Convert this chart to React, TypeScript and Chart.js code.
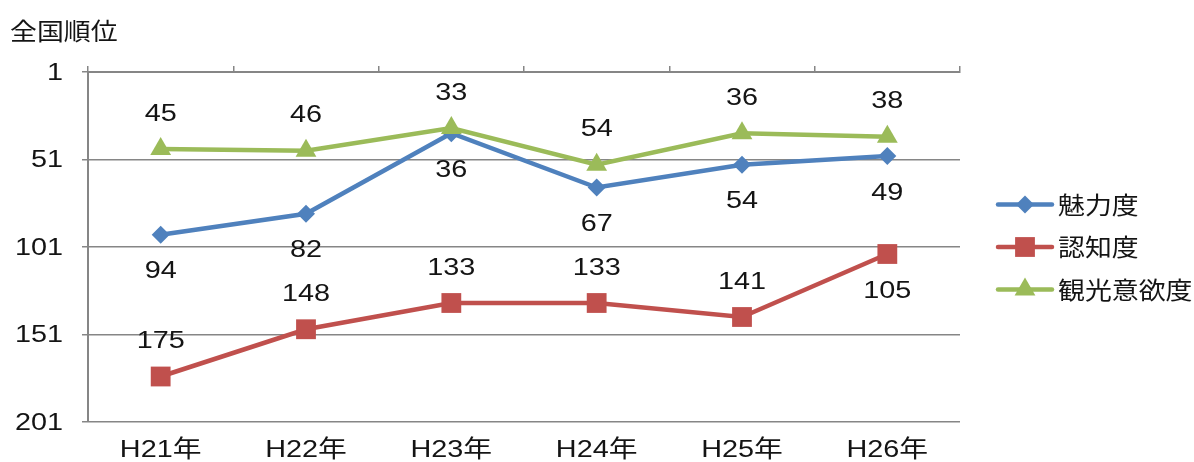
import React, { useEffect, useRef } from 'react';
import { Chart, registerables } from 'chart.js';

Chart.register(...registerables);

const categories = ['H21年', 'H22年', 'H23年', 'H24年', 'H25年', 'H26年'];
const seriesNames = ['魅力度', '認知度', '観光意欲度'];
const miryokudo = [94, 82, 36, 67, 54, 49];
const ninchido = [175, 148, 133, 133, 141, 105];
const kankoIyokudo = [45, 46, 33, 54, 36, 38];
const yTicks = [1, 51, 101, 151, 201];
const yTitle = '全国順位';
const miryokuLabelPos = ['below', 'below', 'below', 'below', 'below', 'below'];
const ninchiLabelPos = ['above', 'above', 'above', 'above', 'above', 'below'];
const kankoLabelPos = ['above', 'above', 'above', 'above', 'above', 'above'];

const BLUE = '#4F81BD';
const RED = '#C0504D';
const GREEN = '#9BBB59';
const AXIS = '#868686';
const TEXT = '#141414';
const NUM_FONT = '"Liberation Sans", "Noto Sans CJK JP", sans-serif';
const CJK_FONT = '"Noto Sans CJK JP", sans-serif';
const NUM_SX = 1.2;
const CJK_SX = 1.12;

const labelPositions = [miryokuLabelPos, ninchiLabelPos, kankoLabelPos];
const markerStyles = ['rectRot', 'rect', 'triangle'];
const colors = [BLUE, RED, GREEN];

function drawText(
  ctx: CanvasRenderingContext2D,
  text: string,
  x: number,
  y: number,
  align: CanvasTextAlign,
  font: string,
  sx: number
) {
  ctx.save();
  ctx.translate(x, y);
  ctx.scale(sx, 1);
  ctx.font = font;
  ctx.fillStyle = TEXT;
  ctx.textAlign = align;
  ctx.textBaseline = 'middle';
  ctx.fillText(text, 0, 0);
  ctx.restore();
}

function drawMarker(ctx: CanvasRenderingContext2D, style: string, x: number, y: number, r: number, color: string) {
  ctx.save();
  ctx.fillStyle = color;
  ctx.beginPath();
  if (style === 'rectRot') {
    ctx.moveTo(x, y - r);
    ctx.lineTo(x + r, y);
    ctx.lineTo(x, y + r);
    ctx.lineTo(x - r, y);
  } else if (style === 'rect') {
    const s = Math.SQRT1_2 * r;
    ctx.rect(x - s, y - s, 2 * s, 2 * s);
  } else {
    ctx.moveTo(x, y - r);
    ctx.lineTo(x + r * Math.cos(Math.PI / 6), y + r / 2);
    ctx.lineTo(x - r * Math.cos(Math.PI / 6), y + r / 2);
  }
  ctx.closePath();
  ctx.fill();
  ctx.restore();
}

const textPlugin = {
  id: 'textLayer',
  afterDatasetsDraw(chart: any) {
    const ctx = chart.ctx as CanvasRenderingContext2D;
    const numFont = `24px ${NUM_FONT}`;
    chart.data.datasets.forEach((ds: any, di: number) => {
      const meta = chart.getDatasetMeta(di);
      meta.data.forEach((pt: any, i: number) => {
        const pos = labelPositions[di][i];
        const dy = pos === 'above' ? -35 : 37;
        drawText(ctx, String(ds.data[i]), pt.x, pt.y + dy, 'center', numFont, NUM_SX);
      });
    });
  },
  afterDraw(chart: any) {
    const ctx = chart.ctx as CanvasRenderingContext2D;
    const area = chart.chartArea;
    const numFont = `24px ${NUM_FONT}`;
    const cjkFont = `24px ${CJK_FONT}`;
    // y tick labels
    const yScale = chart.scales.y;
    yTicks.forEach((v) => {
      drawText(ctx, String(v), area.left - 25, yScale.getPixelForValue(v) + 1, 'right', numFont, NUM_SX);
    });
    // x category labels
    const xScale = chart.scales.x;
    categories.forEach((c, i) => {
      drawText(ctx, c, xScale.getPixelForTick(i), area.bottom + 28, 'center', numFont, NUM_SX);
    });
    // title
    drawText(ctx, yTitle, 10, 31, 'left', cjkFont, CJK_SX);
    // legend
    const cy = (area.top + area.bottom) / 2;
    const x0 = area.right + 38;
    const radii = [9, 14, 12];
    seriesNames.forEach((name, i) => {
      const y = cy + (i - 1) * 42.5;
      ctx.save();
      ctx.strokeStyle = colors[i];
      ctx.lineWidth = 4.5;
      ctx.lineCap = 'round';
      ctx.beginPath();
      ctx.moveTo(x0, y);
      ctx.lineTo(x0 + 54, y);
      ctx.stroke();
      ctx.restore();
      drawMarker(ctx, markerStyles[i], x0 + 27, y, radii[i], colors[i]);
      drawText(ctx, name, x0 + 60, y, 'left', cjkFont, CJK_SX);
    });
  },
};

export default function App() {
  const ref = useRef<HTMLCanvasElement>(null);

  useEffect(() => {
    if (!ref.current) return;
    const chart = new Chart(ref.current, {
      type: 'line',
      data: {
        labels: categories,
        datasets: [
          {
            label: seriesNames[0],
            data: miryokudo,
            borderColor: BLUE,
            backgroundColor: BLUE,
            pointBackgroundColor: BLUE,
            pointBorderColor: BLUE,
            borderWidth: 4.5,
            pointStyle: 'rectRot',
            pointRadius: 9,
            pointBorderWidth: 0,
            order: 2,
          },
          {
            label: seriesNames[1],
            data: ninchido,
            borderColor: RED,
            backgroundColor: RED,
            pointBackgroundColor: RED,
            pointBorderColor: RED,
            borderWidth: 4.5,
            pointStyle: 'rect',
            pointRadius: 14,
            pointBorderWidth: 0,
            order: 1,
          },
          {
            label: seriesNames[2],
            data: kankoIyokudo,
            borderColor: GREEN,
            backgroundColor: GREEN,
            pointBackgroundColor: GREEN,
            pointBorderColor: GREEN,
            borderWidth: 4.5,
            pointStyle: 'triangle',
            pointRadius: 12,
            pointBorderWidth: 0,
            order: 0,
          },
        ],
      },
      options: {
        animation: false,
        responsive: false,
        devicePixelRatio: 1,
        layout: { padding: { top: 0, left: 0, right: 234, bottom: 0 } },
        plugins: {
          legend: { display: false },
          tooltip: { enabled: false },
          title: { display: false },
        },
        scales: {
          x: {
            type: 'category',
            position: 'bottom',
            offset: true,
            grid: { display: false, drawTicks: false },
            border: { display: false },
            ticks: { display: false },
            afterFit: (s: any) => {
              s.height = 40;
            },
          },
          x2: {
            type: 'category',
            position: 'top',
            offset: true,
            grid: {
              offset: true,
              drawOnChartArea: false,
              drawTicks: true,
              tickLength: 6,
              color: AXIS,
              lineWidth: 1.5,
            },
            border: { display: true, color: AXIS, width: 2 },
            ticks: { display: false },
            afterFit: (s: any) => {
              s.height = 72;
            },
          },
          y: {
            type: 'linear',
            reverse: true,
            min: 1,
            max: 201,
            afterBuildTicks: (s: any) => {
              s.ticks = yTicks.map((v) => ({ value: v }));
            },
            afterFit: (s: any) => {
              s.width = 88;
            },
            grid: {
              color: AXIS,
              lineWidth: 1.5,
              drawTicks: true,
              tickLength: 6,
            },
            border: { display: true, color: AXIS, width: 2 },
            ticks: { display: false },
          },
        },
      },
      plugins: [textPlugin],
    } as any);
    return () => chart.destroy();
  }, []);

  return (
    <div style={{ position: 'fixed', left: 0, top: 0, width: 1194, height: 462, background: '#fff' }}>
      <canvas ref={ref} width={1194} height={462} style={{ display: 'block' }} />
    </div>
  );
}
